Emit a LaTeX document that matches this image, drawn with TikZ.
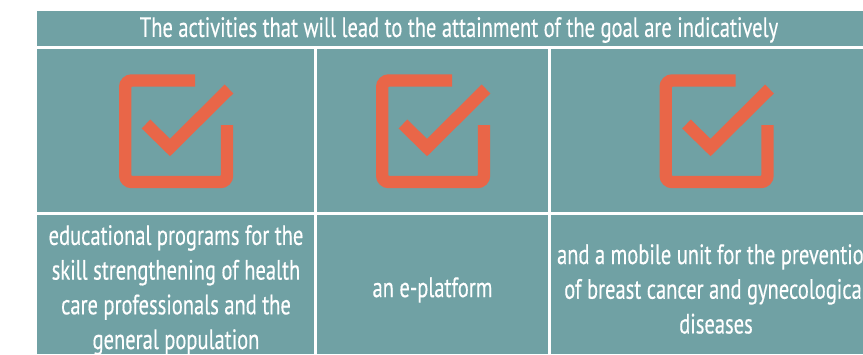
\documentclass[tikz,border=0pt]{standalone}
\usepackage{fontspec}
\setmainfont[FakeStretch=0.733,FakeBold=0.35]{PT Sans}
\definecolor{cellteal}{HTML}{70A1A4}
\definecolor{tickorange}{HTML}{E96648}
\tikzset{
  cellbox/.style={fill=cellteal,text=white,inner sep=0pt,outer sep=0pt,anchor=north west,align=center},
  celltext/.style={text=white,align=center,inner sep=0pt,font=\fontsize{28}{34.7}\selectfont},
  tickmark/.style={draw=tickorange,line width=12.4pt,line join=miter,line cap=butt},
  pics/checkicon/.style={code={
    \draw[tickmark,rounded corners=6.5pt] (76,-6.5) -- (6.2,-6.5) -- (6.2,-108) -- (108,-108) -- (108,-51);
    \draw[tickmark] (27,-50) -- (51,-73.5) -- (110,-15);
  }}
}
\begin{document}
\begin{tikzpicture}[x=1pt,y=1pt]
\useasboundingbox (0,0) rectangle (863,-354);
\clip (0,0) rectangle (863,-354);
\node[cellbox,minimum width=826pt,minimum height=35pt] (head) at (37,-11) {};
\node[cellbox,minimum width=277pt,minimum height=163pt] (c1) at (37,-49) {};
\node[cellbox,minimum width=231pt,minimum height=163pt] (c2) at (317,-49) {};
\node[cellbox,minimum width=312pt,minimum height=163pt] (c3) at (551,-49) {};
\node[cellbox,minimum width=277pt,minimum height=139pt] (d1) at (37,-215) {};
\node[cellbox,minimum width=231pt,minimum height=139pt] (d2) at (317,-215) {};
\node[cellbox,minimum width=312pt,minimum height=139pt] (d3) at (551,-215) {};
\node[celltext] (title) at (459,-30) {The activities that will lead to the attainment of the goal are indicatively};
\pic at (119,-74) {checkicon};
\pic at (376,-74) {checkicon};
\pic at (659.5,-74) {checkicon};
\node[celltext] (t1) at (176,-290) {educational programs for the\\skill strengthening of health\\care professionals and the\\general population};
\node[celltext] (t2) at (432.5,-290) {an e-platform};
\node[celltext] (t3) at (716,-289) {and a mobile unit for the prevention\\of breast cancer and gynecological\\diseases};
\end{tikzpicture}
\end{document}
